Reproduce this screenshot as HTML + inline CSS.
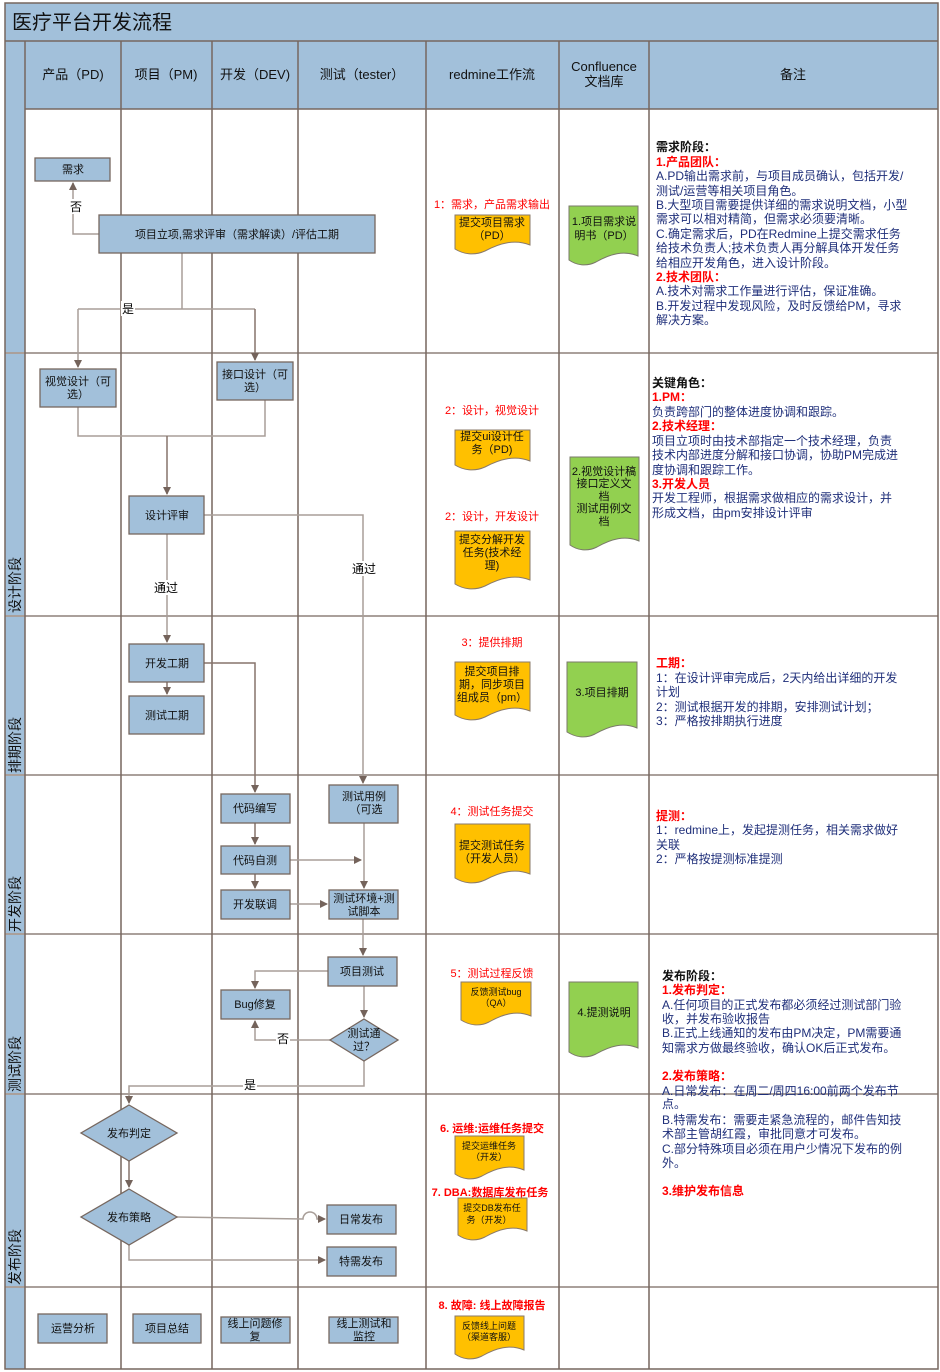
<!DOCTYPE html>
<html><head><meta charset="utf-8"><style>
html,body{margin:0;padding:0;background:#fff;}
svg{display:block;}
text{font-family:"Liberation Sans","Noto Sans CJK SC",sans-serif;}
.n{font-size:11px;fill:#111;text-anchor:middle;}
.h{font-size:13px;fill:#111;text-anchor:middle;}
.r{font-size:11px;fill:#f00;text-anchor:middle;}
.rb{font-size:11px;fill:#f00;text-anchor:middle;font-weight:bold;}
.t{font-size:12px;fill:#1f2f7a;}
.tb{font-size:12px;fill:#111;font-weight:bold;}
.tr{font-size:12px;fill:#f00;font-weight:bold;}
.lab{font-size:12px;fill:#000;text-anchor:middle;}
.ph{font-size:14px;fill:#111;}
.box{fill:#a2c0da;stroke:#76675f;stroke-width:1.3;}
.y{fill:#ffc000;stroke:#8a7a6a;stroke-width:1;}
.g{fill:#92d050;stroke:#7a7a6a;stroke-width:1;}
.c{fill:none;stroke:#a89e98;stroke-width:1.5;}
.ca{fill:none;stroke:#85736b;stroke-width:1.5;}
</style></head><body>
<svg width="940" height="1372" viewBox="0 0 940 1372" xmlns="http://www.w3.org/2000/svg">
<defs>
<marker id="a" markerWidth="8" markerHeight="8" refX="7" refY="4" orient="auto" markerUnits="userSpaceOnUse">
<path d="M0,0 L8,4 L0,8 z" fill="#74635b"/></marker>
</defs>
<!-- backgrounds -->
<rect x="5" y="3" width="933" height="38" fill="#a2c0da"/>
<rect x="5" y="41" width="933" height="68" fill="#a2c0da"/>
<rect x="5" y="41" width="20" height="1328" fill="#a2c0da"/>
<text x="12" y="29" style="font-size:20px;fill:#111;">医疗平台开发流程</text>
<!-- header texts -->
<text class="h" x="73" y="79">产品（PD)</text>
<text class="h" x="166" y="79">项目（PM)</text>
<text class="h" x="255" y="79">开发（DEV)</text>
<text class="h" x="362" y="79">测试（tester）</text>
<text class="h" x="492" y="79">redmine工作流</text>
<text class="h" x="604" y="71">Confluence</text>
<text class="h" x="604" y="86">文档库</text>
<text class="h" x="793" y="79">备注</text>
<!-- row lines -->
<g stroke="#aaa09b" stroke-width="2">
<line x1="5" y1="353" x2="938" y2="353"/>
<line x1="5" y1="616" x2="938" y2="616"/>
<line x1="5" y1="775" x2="938" y2="775"/>
<line x1="5" y1="934" x2="938" y2="934"/>
<line x1="5" y1="1094" x2="938" y2="1094"/>
<line x1="5" y1="1287" x2="938" y2="1287"/>
</g>
<!-- column lines -->
<g stroke="#76675f" stroke-width="1.5">
<line x1="5" y1="41" x2="938" y2="41"/>
<line x1="25" y1="109" x2="938" y2="109"/>
<line x1="25" y1="41" x2="25" y2="1369"/>
<line x1="121" y1="41" x2="121" y2="1369"/>
<line x1="212" y1="41" x2="212" y2="1369"/>
<line x1="298" y1="41" x2="298" y2="1369"/>
<line x1="426" y1="41" x2="426" y2="1369"/>
<line x1="559" y1="41" x2="559" y2="1369"/>
<line x1="649" y1="41" x2="649" y2="1369"/>
</g>
<rect x="5" y="3" width="933" height="1366" fill="none" stroke="#76675f" stroke-width="1.5"/>
<!-- phase labels -->
<text class="ph" transform="translate(20,613) rotate(-90)">设计阶段</text>
<text class="ph" transform="translate(20,773) rotate(-90)">排期阶段</text>
<text class="ph" transform="translate(20,932) rotate(-90)">开发阶段</text>
<text class="ph" transform="translate(20,1092) rotate(-90)">测试阶段</text>
<text class="ph" transform="translate(20,1285) rotate(-90)">发布阶段</text>

<!-- connectors -->
<path class="c" d="M99,234 H73 V183" marker-end="url(#a)"/>
<path class="c" d="M182,253 V309 M78,309 H255"/>
<path class="c" d="M78,309 V367" marker-end="url(#a)"/>
<path class="ca" d="M255,309 V360" marker-end="url(#a)"/>
<path class="c" d="M78,407 V436 H265 V400"/>
<path class="ca" d="M167,436 V494" marker-end="url(#a)"/>
<path class="c" d="M204,515 H363 V783" marker-end="url(#a)"/>
<path class="c" d="M167,534 V642" marker-end="url(#a)"/>
<path class="ca" d="M204,663 H255 V792" marker-end="url(#a)"/>
<path class="ca" d="M167,682 V694" marker-end="url(#a)"/>
<path class="ca" d="M255,823 V844" marker-end="url(#a)"/>
<path class="ca" d="M255,874 V888" marker-end="url(#a)"/>
<path class="c" d="M290,860 H361" marker-end="url(#a)"/>
<path class="c" d="M290,904 H327" marker-end="url(#a)"/>
<path class="c" d="M364,823 V888" marker-end="url(#a)"/>
<path class="c" d="M363,919 V955" marker-end="url(#a)"/>
<path class="c" d="M328,971 H255 V988" marker-end="url(#a)"/>
<path class="c" d="M364,986 V1017" marker-end="url(#a)"/>
<path class="c" d="M330,1040 H255 V1021" marker-end="url(#a)"/>
<path class="c" d="M364,1060 V1086 H129 V1103" marker-end="url(#a)"/>
<path class="ca" d="M129,1161 V1187" marker-end="url(#a)"/>
<path class="c" d="M177,1217 L303,1219 A7,7 0 0 1 317,1219 H325" marker-end="url(#a)"/>
<path class="c" d="M129,1245 V1260 H325" marker-end="url(#a)"/>

<!-- labels on connectors -->
<rect x="69" y="199" width="14" height="15" fill="#fff"/><text class="lab" x="76" y="211">否</text>
<rect x="121" y="301" width="14" height="15" fill="#fff"/><text class="lab" x="128" y="313">是</text>
<rect x="151" y="580" width="30" height="15" fill="#fff"/><text class="lab" x="166" y="592">通过</text>
<rect x="349" y="561" width="30" height="15" fill="#fff"/><text class="lab" x="364" y="573">通过</text>
<rect x="276" y="1031" width="14" height="15" fill="#fff"/><text class="lab" x="283" y="1043">否</text>
<rect x="243" y="1077" width="14" height="15" fill="#fff"/><text class="lab" x="250" y="1089">是</text>

<!-- process boxes -->
<rect class="box" x="35" y="158" width="75" height="23"/><text class="n" x="73" y="173">需求</text>
<rect class="box" x="99" y="215" width="276" height="38"/><text class="n" x="237" y="238">项目立项,需求评审（需求解读）/评估工期</text>
<rect class="box" x="40" y="369" width="76" height="38"/><text class="n" x="78" y="385">视觉设计（可</text><text class="n" x="78" y="398">选）</text>
<rect class="box" x="217" y="362" width="76" height="38"/><text class="n" x="255" y="378">接口设计（可</text><text class="n" x="255" y="391">选）</text>
<rect class="box" x="129" y="496" width="75" height="38"/><text class="n" x="167" y="519">设计评审</text>
<rect class="box" x="129" y="644" width="75" height="38"/><text class="n" x="167" y="667">开发工期</text>
<rect class="box" x="129" y="696" width="75" height="38"/><text class="n" x="167" y="719">测试工期</text>
<rect class="box" x="221" y="794" width="69" height="29"/><text class="n" x="255" y="812">代码编写</text>
<rect class="box" x="221" y="846" width="69" height="28"/><text class="n" x="255" y="864">代码自测</text>
<rect class="box" x="221" y="890" width="69" height="29"/><text class="n" x="255" y="908">开发联调</text>
<rect class="box" x="329" y="785" width="69" height="38"/><text class="n" x="364" y="800">测试用例</text><text class="n" x="366" y="813">（可选</text>
<rect class="box" x="329" y="890" width="69" height="29"/><text class="n" x="364" y="902">测试环境+测</text><text class="n" x="364" y="915">试脚本</text>
<rect class="box" x="328" y="957" width="69" height="29"/><text class="n" x="362" y="975">项目测试</text>
<rect class="box" x="221" y="990" width="69" height="29"/><text class="n" x="255" y="1008">Bug修复</text>
<polygon class="box" points="364,1019 398,1040 364,1061 330,1040"/><text class="n" x="364" y="1037">测试通</text><text class="n" x="364" y="1050">过？</text>
<polygon class="box" points="129,1105 177,1133 129,1161 81,1133"/><text class="n" x="129" y="1137">发布判定</text>
<polygon class="box" points="129,1189 177,1217 129,1245 81,1217"/><text class="n" x="129" y="1221">发布策略</text>
<rect class="box" x="327" y="1205" width="69" height="29"/><text class="n" x="361" y="1223">日常发布</text>
<rect class="box" x="327" y="1247" width="69" height="29"/><text class="n" x="361" y="1265">特需发布</text>
<rect class="box" x="38" y="1314" width="69" height="29"/><text class="n" x="73" y="1332">运营分析</text>
<rect class="box" x="133" y="1314" width="68" height="29"/><text class="n" x="167" y="1332">项目总结</text>
<rect class="box" x="221" y="1317" width="69" height="26"/><text class="n" x="255" y="1327">线上问题修</text><text class="n" x="255" y="1340">复</text>
<rect class="box" x="329" y="1317" width="69" height="26"/><text class="n" x="364" y="1327">线上测试和</text><text class="n" x="364" y="1340">监控</text>

<!-- redmine docs -->
<text class="r" x="492" y="208">1：需求，产品需求输出</text>
<path class="y" d="M455,215 h75 v30 c-15,-6 -30,-2 -45,6 c-11,5 -22,3 -30,-2 z"/>
<text class="n" x="492" y="226">提交项目需求</text><text class="n" x="492" y="239">（PD）</text>
<text class="r" x="492" y="414">2：设计，视觉设计</text>
<path class="y" d="M455,430 h75 v31 c-15,-6 -30,-2 -45,6 c-11,5 -22,3 -30,-2 z"/>
<text class="n" x="492" y="440">提交ui设计任</text><text class="n" x="492" y="453">务（PD)</text>
<text class="r" x="492" y="520">2：设计，开发设计</text>
<path class="y" d="M455,531 h75 v49 c-15,-6 -30,-2 -45,6 c-11,5 -22,3 -30,-2 z"/>
<text class="n" x="492" y="543">提交分解开发</text><text class="n" x="492" y="556">任务(技术经</text><text class="n" x="492" y="569">理)</text>
<text class="r" x="492" y="646">3：提供排期</text>
<path class="y" d="M455,662 h75 v49 c-15,-6 -30,-2 -45,6 c-11,5 -22,3 -30,-2 z"/>
<text class="n" x="492" y="675">提交项目排</text><text class="n" x="492" y="688">期，同步项目</text><text class="n" x="492" y="701">组成员（pm）</text>
<text class="r" x="492" y="815">4：测试任务提交</text>
<path class="y" d="M455,824 h75 v50 c-15,-6 -30,-2 -45,6 c-11,5 -22,3 -30,-2 z"/>
<text class="n" x="492" y="849">提交测试任务</text><text class="n" x="492" y="862">（开发人员）</text>
<text class="r" x="492" y="977">5：测试过程反馈</text>
<path class="y" d="M461,982 h70 v34 c-14,-6 -28,-2 -42,6 c-10,5 -20,3 -28,-2 z"/>
<text class="n" x="496" y="995" style="font-size:9px">反馈测试bug</text><text class="n" x="496" y="1006" style="font-size:9px">（QA）</text>
<text class="rb" x="492" y="1132">6. 运维:运维任务提交</text>
<path class="y" d="M455,1136 h69 v34 c-14,-6 -28,-2 -42,6 c-10,5 -20,3 -27,-2 z"/>
<text class="n" x="489" y="1149" style="font-size:9px">提交运维任务</text><text class="n" x="489" y="1160" style="font-size:9px">（开发）</text>
<text class="rb" x="490" y="1196">7. DBA:数据库发布任务</text>
<path class="y" d="M458,1198 h69 v33 c-14,-6 -28,-2 -42,6 c-10,5 -20,3 -27,-2 z"/>
<text class="n" x="492" y="1211" style="font-size:9px">提交DB发布任</text><text class="n" x="489" y="1223" style="font-size:9px">务（开发）</text>
<text class="rb" x="492" y="1309">8. 故障:  线上故障报告</text>
<path class="y" d="M455,1316 h69 v34 c-14,-6 -28,-2 -42,6 c-10,5 -20,3 -27,-2 z"/>
<text class="n" x="489" y="1329" style="font-size:9px">反馈线上问题</text><text class="n" x="489" y="1340" style="font-size:9px">（渠道客服）</text>

<!-- confluence docs -->
<path class="g" d="M569,206 h69 v50 c-14,-6 -28,-2 -42,6 c-10,5 -20,3 -27,-2 z"/>
<text class="n" x="604" y="225">1.项目需求说</text><text class="n" x="604" y="239">明书（PD）</text>
<path class="g" d="M570,457 h69 v84 c-14,-6 -28,-2 -42,6 c-10,5 -20,3 -27,-2 z"/>
<text class="n" x="604" y="475">2.视觉设计稿</text><text class="n" x="604" y="487">接口定义文</text><text class="n" x="604" y="500">档</text><text class="n" x="604" y="512">测试用例文</text><text class="n" x="604" y="525">档</text>
<path class="g" d="M567,662 h70 v66 c-14,-6 -28,-2 -42,6 c-10,5 -20,3 -28,-2 z"/>
<text class="n" x="602" y="696">3.项目排期</text>
<path class="g" d="M569,982 h69 v66 c-14,-6 -28,-2 -42,6 c-10,5 -20,3 -27,-2 z"/>
<text class="n" x="604" y="1016">4.提测说明</text>

<!-- notes -->
<text class="tb" x="656" y="151">需求阶段：</text>
<text class="tr" x="656" y="166">1.产品团队：</text>
<text class="t" x="656" y="180">A.PD输出需求前，与项目成员确认，包括开发/</text>
<text class="t" x="656" y="195">测试/运营等相关项目角色。</text>
<text class="t" x="656" y="209">B.大型项目需要提供详细的需求说明文档，小型</text>
<text class="t" x="656" y="223">需求可以相对精简，但需求必须要清晰。</text>
<text class="t" x="656" y="238">C.确定需求后，PD在Redmine上提交需求任务</text>
<text class="t" x="656" y="252">给技术负责人;技术负责人再分解具体开发任务</text>
<text class="t" x="656" y="267">给相应开发角色，进入设计阶段。</text>
<text class="tr" x="656" y="281">2.技术团队：</text>
<text class="t" x="656" y="295">A.技术对需求工作量进行评估，保证准确。</text>
<text class="t" x="656" y="310">B.开发过程中发现风险，及时反馈给PM，寻求</text>
<text class="t" x="656" y="324">解决方案。</text>

<text class="tb" x="652" y="387">关键角色：</text>
<text class="tr" x="652" y="401">1.PM：</text>
<text class="t" x="652" y="416">负责跨部门的整体进度协调和跟踪。</text>
<text class="tr" x="652" y="430">2.技术经理：</text>
<text class="t" x="652" y="445">项目立项时由技术部指定一个技术经理，负责</text>
<text class="t" x="652" y="459">技术内部进度分解和接口协调，协助PM完成进</text>
<text class="t" x="652" y="474">度协调和跟踪工作。</text>
<text class="tr" x="652" y="488">3.开发人员</text>
<text class="t" x="652" y="502">开发工程师，根据需求做相应的需求设计，并</text>
<text class="t" x="652" y="517">形成文档，由pm安排设计评审</text>

<text class="tr" x="656" y="667">工期：</text>
<text class="t" x="656" y="682">1：在设计评审完成后，2天内给出详细的开发</text>
<text class="t" x="656" y="696">计划</text>
<text class="t" x="656" y="711">2：测试根据开发的排期，安排测试计划；</text>
<text class="t" x="656" y="725">3：严格按排期执行进度</text>

<text class="tr" x="656" y="820">提测：</text>
<text class="t" x="656" y="834">1：redmine上，发起提测任务，相关需求做好</text>
<text class="t" x="656" y="849">关联</text>
<text class="t" x="656" y="863">2：严格按提测标准提测</text>

<text class="tb" x="662" y="980">发布阶段：</text>
<text class="tr" x="662" y="994">1.发布判定：</text>
<text class="t" x="662" y="1009">A.任何项目的正式发布都必须经过测试部门验</text>
<text class="t" x="662" y="1023">收，并发布验收报告</text>
<text class="t" x="662" y="1037">B.正式上线通知的发布由PM决定，PM需要通</text>
<text class="t" x="662" y="1052">知需求方做最终验收，确认OK后正式发布。</text>
<text class="tr" x="662" y="1080">2.发布策略：</text>
<text class="t" x="662" y="1095">A.日常发布：在周二/周四16:00前两个发布节</text>
<text class="t" x="662" y="1108">点。</text>
<text class="t" x="662" y="1124">B.特需发布：需要走紧急流程的，邮件告知技</text>
<text class="t" x="662" y="1138">术部主管胡红霞，审批同意才可发布。</text>
<text class="t" x="662" y="1153">C.部分特殊项目必须在用户少情况下发布的例</text>
<text class="t" x="662" y="1167">外。</text>
<text class="tr" x="662" y="1195">3.维护发布信息</text>
</svg>
</body></html>
